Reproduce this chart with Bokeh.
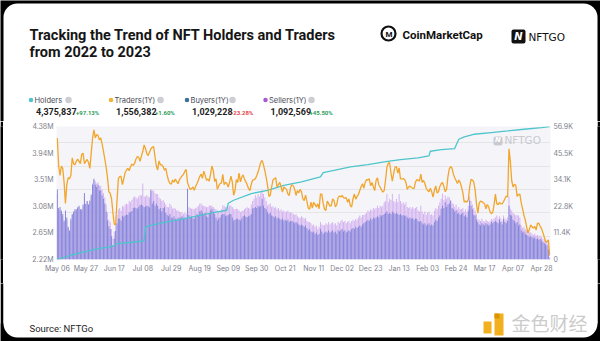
from bokeh.plotting import figure
from bokeh.models import Range1d, LinearAxis, FixedTicker, ColumnDataSource, Label, BoxAnnotation
from bokeh.layouts import column, row
from bokeh.core.properties import value
from bokeh.embed import file_html
from bokeh.resources import INLINE

# ---------------- data ----------------
# day index 0 = May 06 2022, one value per day (thousands)
tick_days = [0, 21, 42, 63, 84, 105, 126, 147, 168, 189, 210, 231, 252, 273, 294, 315, 336, 357]
tick_labels = ["May 06", "May 27", "Jun 17", "Jul 08", "Jul 29", "Aug 19", "Sep 09", "Sep 30", "Oct 21",
               "Nov 11", "Dec 02", "Dec 23", "Jan 13", "Feb 03", "Feb 24", "Mar 17", "Apr 07", "Apr 28"]

traders_k = [
    52, 40, 36, 40, 39, 33, 24, 32, 35, 34.5,
    36, 43.5, 41, 40.5, 42, 43, 42, 41, 45, 45.5,
    41, 42, 42.8, 41.5, 39, 45.5, 52, 55.5, 52, 53.5,
    53, 51.2, 52, 49.5, 46.5, 43, 39.5, 35, 29, 28.3,
    26, 20, 15, 15, 25, 34.6, 35.5, 35.5, 32, 34.5,
    37.2, 38.3, 39, 38, 39.8, 40.8, 40.2, 41.2, 43, 44,
    43.8, 42, 44.2, 46.2, 49, 47.5, 45.2, 44.5, 46, 47.4,
    48, 48.3, 44, 40, 38.3, 42.2, 40.5, 40.5, 39.8, 38.2,
    39, 36, 33.8, 32.5, 32.2, 34, 33.1, 34.4, 33.3, 32.4,
    34.1, 35, 35.8, 36.4, 37.8, 38.5, 33, 31.2, 30, 30.3,
    31, 29.6, 31.3, 32.5, 34, 35.5, 36.5, 34.7, 37.8, 36,
    33.9, 34.4, 33.5, 36.5, 40, 38, 33.4, 34.5, 30, 31.5,
    32.5, 32.8, 36.4, 32, 33, 32.5, 31, 33, 35.7, 33.2,
    27.5, 29.5, 34.2, 33, 37, 33.2, 35.3, 36.2, 34.3, 33.3,
    32, 30.3, 29.5, 32.2, 34, 34.2, 34.5, 35.8, 37.4, 39.5,
    41.6, 42.4, 40.5, 38, 35, 31.7, 27, 27.5, 31, 34,
    34.5, 35, 31, 32, 33, 31, 28.8, 31, 30.5, 30,
    28, 27.4, 31, 32, 31.5, 30, 27.4, 29.5, 28.5, 30,
    29, 26, 25.2, 27.5, 25, 22, 21.5, 24.5, 22, 24.5,
    23.5, 22.5, 23.8, 21.7, 28, 28, 24, 21.5, 21, 25,
    24, 22.8, 23, 25.9, 25.2, 22.5, 23.5, 26.5, 27.2, 26.7,
    27.4, 26.5, 26.2, 26.5, 24.5, 25.9, 23, 22.5, 26, 28,
    25.8, 27, 27.8, 29.5, 31.2, 32.4, 30.5, 33, 34.2, 34,
    34.5, 31.5, 33, 31, 29.5, 33.8, 35, 32, 31, 29.8,
    28.8, 29.5, 34, 39.5, 41.2, 41.4, 37, 33.5, 37, 39.5,
    39.8, 37, 39.2, 34.5, 34.5, 34.6, 34.2, 33, 30, 31,
    31.4, 30.8, 30.5, 30.3, 33, 34.2, 34, 33.5, 36.5, 33,
    33.8, 32.5, 30.5, 29.5, 29, 30.5, 29, 26.7, 29.5, 31.5,
    28.5, 29, 31.2, 32.4, 33, 31.2, 29, 30, 35.5, 38.8,
    39.8, 39, 36.5, 35, 33.8, 32.5, 34, 33, 31, 28.5,
    24.5, 25, 24.5, 25.5, 31, 34.3, 34, 33.2, 30, 24,
    19.8, 24, 25, 24.8, 24.3, 23.8, 21.7, 23.5, 22.5, 20.5,
    19.6, 20.2, 23.5, 28, 23.8, 23.5, 24.4, 23.8, 23.8, 24.8,
    26, 27.2, 26.7, 47.4, 42, 33.8, 31, 32.2, 31.8, 27,
    27.8, 28, 24.2, 21.8, 19, 17, 14, 11.3, 12.8, 14.8,
    14, 13.4, 14.2, 12.6, 15.6, 15.5, 14.2, 13.2, 11.5, 9.6,
    7.7, 7.6, 8.4, 1.7,
]

buyers_k = [
    30, 22, 22.5, 21, 19.5, 16.7, 21, 18, 14, 12.4,
    17.4, 19.5, 20.5, 21.5, 21.5, 22.4, 23, 21.5, 21.5, 23.5,
    28.5, 23.8, 25, 23.5, 25, 27.5, 32, 34.5, 32, 31,
    32, 29.5, 29.5, 27.5, 26, 24, 20.5, 16.7, 14.2, 13,
    10, 6, 9, 12.2, 15.5, 17.5, 17.5, 16.7, 18.7, 18.3,
    18.8, 19.3, 19, 20.2, 20.2, 20.8, 22, 22.3, 22, 21.7,
    22.5, 23.3, 23.5, 23, 22.4, 22.7, 23, 22.8, 22.2, 29.5,
    24, 25, 23, 24, 23, 21.5, 22, 20.5, 22, 22.4,
    20, 19, 18.5, 19.5, 18, 17.5, 18.5, 17.4, 17, 18,
    17.5, 18.1, 18.5, 17.4, 18, 17.5, 30.2, 19, 18, 18.5,
    17.5, 17.4, 18.5, 19.5, 19, 20.5, 21, 20, 19.5, 20,
    18.5, 18.1, 19.5, 21, 21.7, 20.5, 19.5, 18, 16.7, 17.5,
    18.1, 19, 19.5, 19.5, 18.5, 18.8, 19, 19.5, 19.5, 18,
    16.7, 17, 17.4, 17.4, 17, 16.7, 17.5, 18.5, 18.8, 18.3,
    18.1, 18.5, 18.8, 19.5, 21.8, 22, 22.5, 22, 23, 22.5,
    23, 26, 23, 22, 21.5, 20.2, 19.5, 20, 18.8, 18.5,
    18, 18.5, 17.5, 18, 17.4, 17, 17.5, 16.7, 17, 16.5,
    17, 16, 16.5, 16.5, 16, 15.5, 16, 15.5, 15, 14.5,
    15, 14.5, 14, 14.5, 13.5, 12.5, 13, 12, 11.5, 12,
    11, 11.5, 10.5, 11, 13, 12, 11, 11.5, 12, 11.5,
    12.5, 11.5, 12, 12.5, 11.5, 12, 11, 12.5, 12, 12.5,
    13, 12, 12.5, 11.5, 12, 12.5, 12, 13, 13.5, 13,
    14, 13.5, 14, 14.5, 14, 15, 15.5, 16, 16.5, 17,
    16.5, 17.5, 17, 18, 17.5, 18, 18.5, 18, 19, 18.5,
    19, 19.5, 20, 20.5, 19.5, 20, 19.5, 20.5, 20, 19.5,
    20, 19.5, 19, 19.5, 18.8, 19, 18.5, 18.8, 18, 17.5,
    18, 17.4, 17.8, 17, 17.5, 17.4, 16.5, 16, 16.5, 15.5,
    15, 15.5, 14.5, 15, 15.5, 14.5, 15, 14.5, 16, 17,
    16.5, 18, 18.8, 21.7, 23, 22, 24.5, 22.5, 23.5, 24,
    25.2, 22, 21.5, 20.5, 21, 19.5, 20, 19, 19.5, 20,
    18.5, 19, 18.1, 21, 25.2, 23, 21.5, 19, 18.8, 17,
    16, 15, 14.5, 15.5, 15, 14.5, 15.5, 15, 14.5, 15,
    16, 15.5, 16, 16.5, 16, 15.5, 17, 16, 15, 17.4,
    16, 15.5, 16.5, 23, 19, 18.8, 17, 16.5, 15.5, 16,
    14.5, 15, 12.5, 11.5, 12, 11, 10.5, 10.3, 9.5, 10,
    9.5, 9, 9.5, 8.8, 9, 8.5, 8.8, 8.1, 7.5, 7,
    6.5, 6, 4.4, 0.3,
]

sellers_k = [
    28, 21, 21, 20, 18.5, 16, 20, 17, 13.5, 12,
    16.5, 19, 20, 21, 21, 22, 22.5, 21.5, 21, 23,
    27.5, 23.5, 25, 23.5, 25.5, 28, 32.5, 34, 33.5, 32.5,
    33, 31.5, 31.5, 30, 28.5, 26.5, 23.5, 20, 17, 16,
    13, 9, 12, 15, 19, 21.5, 22, 21, 23, 22.5,
    23.5, 24, 23.5, 25, 24.5, 25.5, 26.5, 27, 26.5, 26,
    27, 27.5, 27.5, 32.5, 27, 27, 27.5, 27, 26.5, 30.2,
    29.5, 29.5, 28.5, 28, 28, 26.5, 26, 25, 25.5, 24.5,
    23.5, 22.5, 22.4, 23.8, 23, 21.7, 22, 21.7, 21, 21,
    20.5, 20.2, 20, 19.5, 20, 19.5, 30.5, 22.4, 22, 21.7,
    21.7, 21.5, 22, 22.4, 23, 23.8, 24, 23.1, 23, 22.8,
    22.4, 22.5, 23.1, 23, 23.1, 22.5, 21.7, 21.5, 21, 20.8,
    20.2, 21.5, 23.1, 23, 22.4, 22.6, 22.4, 23, 23.1, 22.5,
    21.7, 21.5, 21.7, 21.5, 21, 20.2, 20.8, 21, 21.5, 22,
    22.4, 22, 21.7, 23.5, 25, 26, 27.5, 26.5, 28, 27,
    28.5, 29.5, 28, 26.5, 25, 23.1, 23.5, 24, 22.5, 22.8,
    22, 22.5, 21.5, 22, 21, 21.5, 20.5, 21, 20.2, 20.5,
    21, 20, 20.2, 20, 19.5, 19, 19.5, 18.5, 18, 17.8,
    18.5, 18, 17.4, 17.8, 16.5, 16, 16, 15.5, 14.5, 15,
    14, 14.5, 13, 14, 16, 15, 14.5, 14.8, 15.5, 15,
    16, 15, 15.5, 16, 15, 15.5, 14.5, 16, 15.5, 16.5,
    17, 16, 16.5, 15.5, 16, 16.5, 15.5, 16.5, 17, 16.5,
    17.4, 17, 18, 18.8, 18, 19, 19, 19.5, 20, 21,
    20.5, 21.5, 21, 22, 21.5, 22, 23, 22, 23, 22.5,
    23.1, 24.5, 25, 28, 24.5, 26, 25.5, 28.1, 25, 24.5,
    26, 24.5, 28, 25, 24, 24.5, 23.5, 24.5, 22.5, 22,
    22.5, 21.7, 22.5, 21.7, 22, 22.5, 21, 20.5, 23, 20.5,
    19.5, 20.5, 19, 20, 20.5, 19, 19.5, 18.8, 21, 22,
    21.5, 23, 24.5, 26, 28.1, 25.5, 27.4, 26, 27, 26.5,
    25, 24, 23.8, 22.5, 23.5, 21.5, 22.5, 21.5, 21.5, 22,
    20.5, 21.5, 20.2, 23, 27, 25, 23.5, 22, 21, 19.5,
    17.4, 17, 16.5, 17.4, 16.5, 16, 17, 16.5, 16, 16.5,
    17.4, 17, 17.5, 18, 18.8, 17.5, 18.5, 17.5, 16.5, 18.8,
    17.5, 17, 18, 27, 21.7, 21, 20, 19.5, 18.8, 19,
    18.8, 18, 14.5, 13.5, 14, 13, 12.4, 12, 11.5, 11.7,
    11, 10.5, 11, 10.3, 10.5, 10, 10.3, 9.5, 9, 8.5,
    8, 7.5, 6.6, 1,
]

# holders (millions), read at these day indices
holders_days = [0, 10, 20, 30, 39, 42, 43, 57, 64, 65, 69, 81, 94, 106, 118, 125, 126, 130, 143, 155,
                167, 180, 194, 196, 204, 216, 229, 241, 253, 266, 274, 275, 283, 293, 294, 296, 300,
                307, 320, 332, 344, 357, 363]
holders_m = [2.220, 2.285, 2.339, 2.394, 2.420, 2.440, 2.470, 2.500, 2.520, 2.740, 2.770, 2.826, 2.881,
             2.935, 2.988, 3.016, 3.130, 3.178, 3.287, 3.340, 3.420, 3.475, 3.557, 3.628, 3.665, 3.719,
             3.758, 3.800, 3.839, 3.865, 3.898, 3.974, 4.001, 4.018, 4.070, 4.169, 4.206, 4.250, 4.278,
             4.304, 4.331, 4.359, 4.376]

holder_ticks = [2216000, 2648000, 3080000, 3512000, 3944000, 4376000]
holder_tick_labels = ["2.22M", "2.65M", "3.08M", "3.51M", "3.94M", "4.38M"]
trader_ticks = [0, 11380, 22760, 34140, 45520, 56900]
trader_tick_labels = ["0", "11.4K", "22.8K", "34.1K", "45.5K", "56.9K"]

legend_names = ["Holders", "Traders(1Y)", "Buyers(1Y)", "Sellers(1Y)"]
legend_values = ["4,375,837", "1,556,382", "1,029,228", "1,092,569"]
legend_changes = ["+97.13%", "+1.60%", "-23.28%", "+45.50%"]

# ---------------- styling ----------------
C_HOLD = "#4ec5cb"
C_TRAD = "#f2a52b"
C_BUY = "#8586da"
C_SELL = "#d3b1f0"
AX_COL = "#80808c"
FONT = "Inter"
W = 600
H_HEAD, H_CHART, H_FOOT = 121, 162, 58


def blank_fig(height, width=W, bg="black"):
    f = figure(width=width, height=height, output_backend="svg", toolbar_location=None, title=None,
               x_range=Range1d(0, width), y_range=Range1d(height, 0),
               min_border=0, x_axis_location=None, y_axis_location=None,
               background_fill_color=bg, border_fill_color=bg, outline_line_color=None)
    f.grid.visible = False
    return f


def txt(f, x, y, text, size, color="#222222", font=FONT, style="normal", align="left"):
    # y is the vertical centre of the text
    f.text(x=[x], y=[y], text=[text], text_font=value(font), text_font_size=value(size),
           text_font_style=value(style), text_color=color, text_align=value(align),
           text_baseline=value("middle"))


# ---------------- header ----------------
head = blank_fig(H_HEAD)
head.quad(left=[3], right=[597], top=[3], bottom=[H_HEAD + 40], fill_color="white", line_color=None,
          border_radius=14)
txt(head, 29, 35, "Tracking the Trend of NFT Holders and Traders", "14.5px", color="#161616", font="Roboto", style="bold")
txt(head, 29, 52, "from 2022 to 2023", "14.5px", color="#161616", font="Roboto", style="bold")

# CoinMarketCap logo
head.scatter(x=[388], y=[33], size=14, marker="circle", fill_color=None, line_color="#111111", line_width=2.2)
txt(head, 388.5, 33.5, "M", "8px", color="#111111", font="Roboto", style="bold", align="center")
txt(head, 402, 34, "CoinMarketCap", "11.5px", color="#111111", font="Roboto", style="bold")

# NFTGO logo
head.quad(left=[511], right=[525], top=[29], bottom=[43], fill_color="#111111", line_color=None, border_radius=2)
txt(head, 518, 36, "N", "10px", color="white", font="DejaVu Sans", style="bold italic", align="center")
txt(head, 528, 36, "NFTGO", "10.5px", color="#111111", font="DejaVu Sans")

# legend
leg_x = [30.5, 110.5, 186.5, 265]
dot_cols = [C_HOLD, "#f0b33a", "#3b6f9c", "#a65ad6"]
info_x = [68, 160, 232, 311]
chg_cols = ["#2e9d5a", "#2e9d5a", "#e0474c", "#2e9d5a"]
val_w = [39, 38, 38, 38]
for i in range(4):
    head.scatter(x=[leg_x[i]], y=[99.5], size=4.5, marker="circle", fill_color=dot_cols[i], line_color=None)
    txt(head, leg_x[i] + 3.5, 99.5, legend_names[i], "7.5px", color="#4a4a55")
    head.scatter(x=[info_x[i]], y=[99.5], size=6.5, marker="circle", fill_color="#cdcdd3", line_color=None)
    txt(head, leg_x[i] + 5, 110.5, legend_values[i], "9px", color="#1e1e24", font="Roboto", style="bold")
    txt(head, leg_x[i] + 6 + val_w[i], 111.5, legend_changes[i], "6px", color=chg_cols[i], font="Roboto", style="bold")

# ---------------- chart ----------------
days = list(range(len(traders_k)))
src = ColumnDataSource(dict(
    day=days,
    traders=[v * 1000 for v in traders_k],
    buyers=[v * 1000 for v in buyers_k],
    sellers=[v * 1000 for v in sellers_k],
))
hsrc = ColumnDataSource(dict(day=holders_days, holders=[v * 1e6 for v in holders_m]))

p = figure(width=W - 6, height=H_CHART, output_backend="svg", toolbar_location=None, title=None,
           x_range=Range1d(-0.6, 363.6), y_range=Range1d(0, 56900),
           y_axis_location=None,
           min_border_left=53, min_border_right=47, min_border_top=5, min_border_bottom=24,
           background_fill_color="#f5f5f9", border_fill_color="white", outline_line_color=None)
p.extra_y_ranges = {"holders": Range1d(2216000, 4376000)}
p.xgrid.visible = False


def style_axis(ax):
    ax.axis_line_color = None
    ax.major_tick_line_color = None
    ax.minor_tick_line_color = None
    ax.major_tick_out = 0
    ax.major_tick_in = 0
    ax.minor_tick_out = 0
    ax.minor_tick_in = 0
    ax.major_label_text_font = FONT
    ax.major_label_text_font_size = "7px"
    ax.major_label_text_color = AX_COL
    ax.major_label_standoff = 3


yl = LinearAxis(y_range_name="holders", ticker=FixedTicker(ticks=holder_ticks),
                major_label_overrides=dict(zip(holder_ticks, holder_tick_labels)))
style_axis(yl)
p.add_layout(yl, "left")
yr = LinearAxis(ticker=FixedTicker(ticks=trader_ticks),
                major_label_overrides=dict(zip(trader_ticks, trader_tick_labels)))
style_axis(yr)
p.add_layout(yr, "right")

p.xaxis.ticker = FixedTicker(ticks=tick_days)
p.xaxis.major_label_overrides = dict(zip(tick_days, tick_labels))
style_axis(p.xaxis[0])
p.xaxis.major_label_standoff = 4

p.vbar(x="day", top="sellers", width=0.72, source=src, fill_color=C_SELL, line_color=None)
p.vbar(x="day", top="buyers", width=0.72, source=src, fill_color=C_BUY, line_color=None)
p.line(x="day", y="holders", source=hsrc, y_range_name="holders", line_color=C_HOLD, line_width=1.3)
p.line(x="day", y="traders", source=src, line_color=C_TRAD, line_width=1.3)

# watermark inside the plot area (canvas units of this figure)
p.add_layout(BoxAnnotation(left=490, right=499, top=136 - H_HEAD, bottom=145 - H_HEAD,
                           left_units="canvas", right_units="canvas",
                           top_units="canvas", bottom_units="canvas", fill_color="#c9c9cf", fill_alpha=1,
                           line_color=None, border_radius=2))
p.add_layout(Label(x=494.5, y=143.5 - H_HEAD, x_units="canvas", y_units="canvas", text="N",
                   text_font="DejaVu Sans", text_font_size="7px", text_font_style="bold italic",
                   text_color="white", text_align="center"))
p.add_layout(Label(x=501, y=145 - H_HEAD, x_units="canvas", y_units="canvas", text="NFTGO",
                   text_font="DejaVu Sans", text_font_size="10.5px", text_color="#c9c9cf"))

side_l = blank_fig(H_CHART, width=3)
side_r = blank_fig(H_CHART, width=3)

# ---------------- footer ----------------
foot = blank_fig(H_FOOT, bg="white")
foot.quad(left=[0], right=[W], top=[40], bottom=[H_FOOT + 20], fill_color="black", line_color=None)
foot.quad(left=[0, W - 3], right=[3, W], top=[-10, -10], bottom=[H_FOOT + 20, H_FOOT + 20],
          fill_color="black", line_color=None)
foot.quad(left=[3], right=[597], top=[-40], bottom=[54], fill_color="white", line_color=None, border_radius=14)
txt(foot, 29, 45, "Source: NFTGo", "9.5px", color="#1e1e1e", font="Roboto")
foot.quad(left=[483], right=[491], top=[38], bottom=[50], fill_color="#f2b01e", line_color=None)
foot.quad(left=[494], right=[503], top=[30], bottom=[52], fill_color="#f2b01e", line_color=None)
foot.quad(left=[494], right=[499], top=[30], bottom=[35], fill_color="#d99400", line_color=None)
txt(foot, 511, 38.5, "金色财经", "19px", color="#cccccc", font="Noto Sans CJK SC")

layout = column(row(head), row(side_l, p, side_r, spacing=0), row(foot), spacing=0)
open("out.html", "w").write(file_html(layout, INLINE))
